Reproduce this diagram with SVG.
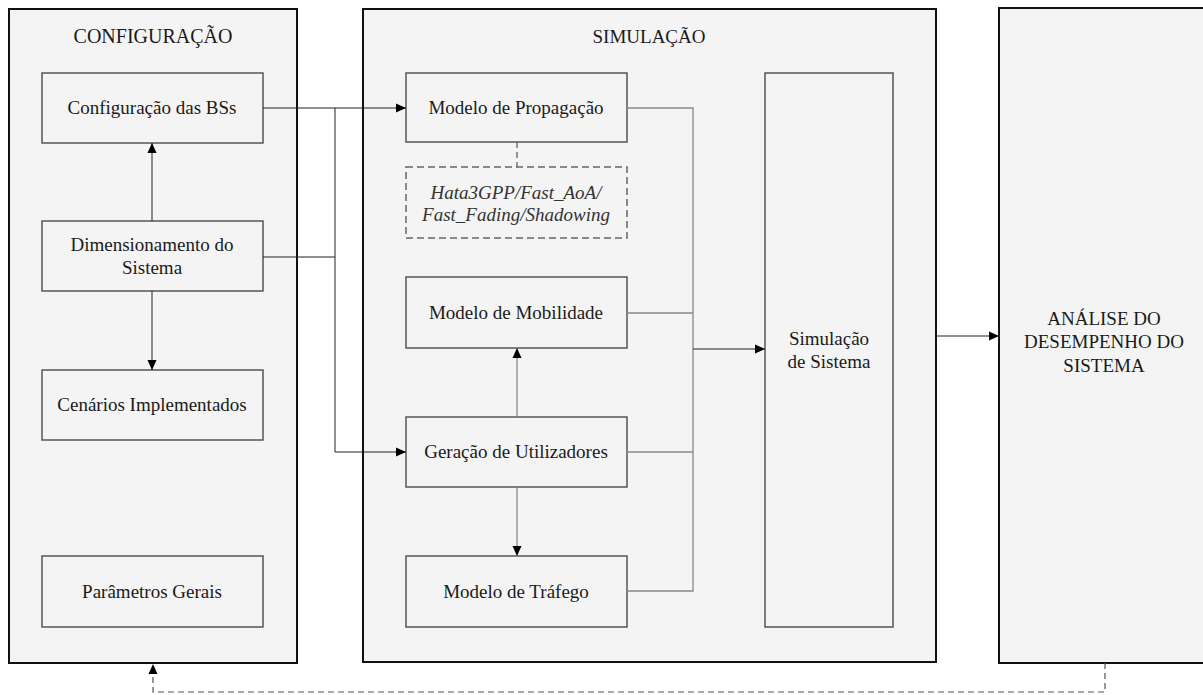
<svg xmlns="http://www.w3.org/2000/svg" width="1203" height="695" viewBox="0 0 1203 695">
<defs>
<marker id="ah" viewBox="0 0 10 10" refX="10" refY="5" markerWidth="10" markerHeight="10" markerUnits="userSpaceOnUse" orient="auto">
<path d="M0,0.5 L10,5 L0,9.5 Z" fill="#000"/>
</marker>
<style>
.panel{fill:#f4f4f4;stroke:#111;stroke-width:2}
.box{fill:#f4f4f4;stroke:#555;stroke-width:1.5}
.dbox{fill:#f4f4f4;stroke:#666;stroke-width:1.5;stroke-dasharray:7,4}
.t{font-family:"Liberation Serif","Times New Roman",serif;font-size:19px;fill:#1a1a1a;text-anchor:middle}
.it{font-style:italic;fill:#333}
.c{fill:none;stroke:#222;stroke-width:1}
.g{fill:none;stroke:#888;stroke-width:1.3}
.d{fill:none;stroke:#555;stroke-width:1.2;stroke-dasharray:6,4}
</style>
</defs>
<rect width="1203" height="695" fill="#fff"/>
<g id="configuracao">
<rect class="panel" x="9" y="9" width="288" height="654"/>
<text class="t" x="153" y="43" style="font-size:20px">CONFIGURAÇÃO</text>
</g>
<g id="simulacao">
<rect class="panel" x="363" y="9" width="573" height="653"/>
<text class="t" x="649" y="43">SIMULAÇÃO</text>
</g>
<g id="analise">
<rect class="panel" x="999" y="8" width="214" height="655"/>
<text class="t" x="1104" y="325">ANÁLISE DO</text>
<text class="t" x="1104" y="348">DESEMPENHO DO</text>
<text class="t" x="1104" y="372">SISTEMA</text>
</g>
<g id="config-bss">
<rect class="box" x="42" y="73" width="221" height="70"/>
<text class="t" x="152" y="114">Configuração das BSs</text>
</g>
<g id="dimensionamento">
<rect class="box" x="42" y="221" width="221" height="70"/>
<text class="t" x="152" y="251">Dimensionamento do</text>
<text class="t" x="152" y="274">Sistema</text>
</g>
<g id="cenarios">
<rect class="box" x="42" y="370" width="221" height="70"/>
<text class="t" x="152" y="411">Cenários Implementados</text>
</g>
<g id="parametros">
<rect class="box" x="42" y="556" width="221" height="71"/>
<text class="t" x="152" y="598">Parâmetros Gerais</text>
</g>
<g id="propagacao">
<rect class="box" x="406" y="73" width="221" height="69"/>
<text class="t" x="516" y="114">Modelo de Propagação</text>
</g>
<g id="hata">
<rect class="dbox" x="406" y="167" width="221" height="71"/>
<text class="t it" x="516" y="199">Hata3GPP/Fast_AoA/</text>
<text class="t it" x="516" y="221">Fast_Fading/Shadowing</text>
</g>
<g id="mobilidade">
<rect class="box" x="406" y="277" width="221" height="71"/>
<text class="t" x="516" y="319">Modelo de Mobilidade</text>
</g>
<g id="geracao">
<rect class="box" x="406" y="417" width="221" height="70"/>
<text class="t" x="516" y="458">Geração de Utilizadores</text>
</g>
<g id="trafego">
<rect class="box" x="406" y="556" width="221" height="71"/>
<text class="t" x="516" y="598">Modelo de Tráfego</text>
</g>
<g id="simulacao-sistema">
<rect class="box" x="765" y="73" width="128" height="554"/>
<text class="t" x="829" y="345">Simulação</text>
<text class="t" x="829" y="368">de Sistema</text>
</g>
<g id="connectors">
<line class="c" x1="152" y1="221" x2="152" y2="143" marker-end="url(#ah)"/>
<line class="c" x1="152" y1="291" x2="152" y2="370" marker-end="url(#ah)"/>
<line class="c" x1="263" y1="108" x2="406" y2="108" marker-end="url(#ah)"/>
<polyline class="c" points="263,257 335,257"/>
<line class="c" x1="335" y1="108" x2="335" y2="452"/>
<line class="c" x1="335" y1="452" x2="406" y2="452" marker-end="url(#ah)"/>
<line class="d" x1="517" y1="142" x2="517" y2="167"/>
<line class="g" x1="517" y1="417" x2="517" y2="348" marker-end="url(#ah)"/>
<line class="g" x1="517" y1="487" x2="517" y2="556" marker-end="url(#ah)"/>
<polyline class="g" points="627,108 693,108 693,591 627,591"/>
<line class="g" x1="627" y1="313" x2="693" y2="313"/>
<line class="g" x1="627" y1="452" x2="693" y2="452"/>
<line class="c" x1="693" y1="349" x2="765" y2="349" marker-end="url(#ah)"/>
<line class="c" x1="936" y1="336" x2="999" y2="336" marker-end="url(#ah)"/>
<polyline class="d" points="1105,663 1105,692 153,692 153,664" marker-end="url(#ah)"/>
</g>
</svg>
